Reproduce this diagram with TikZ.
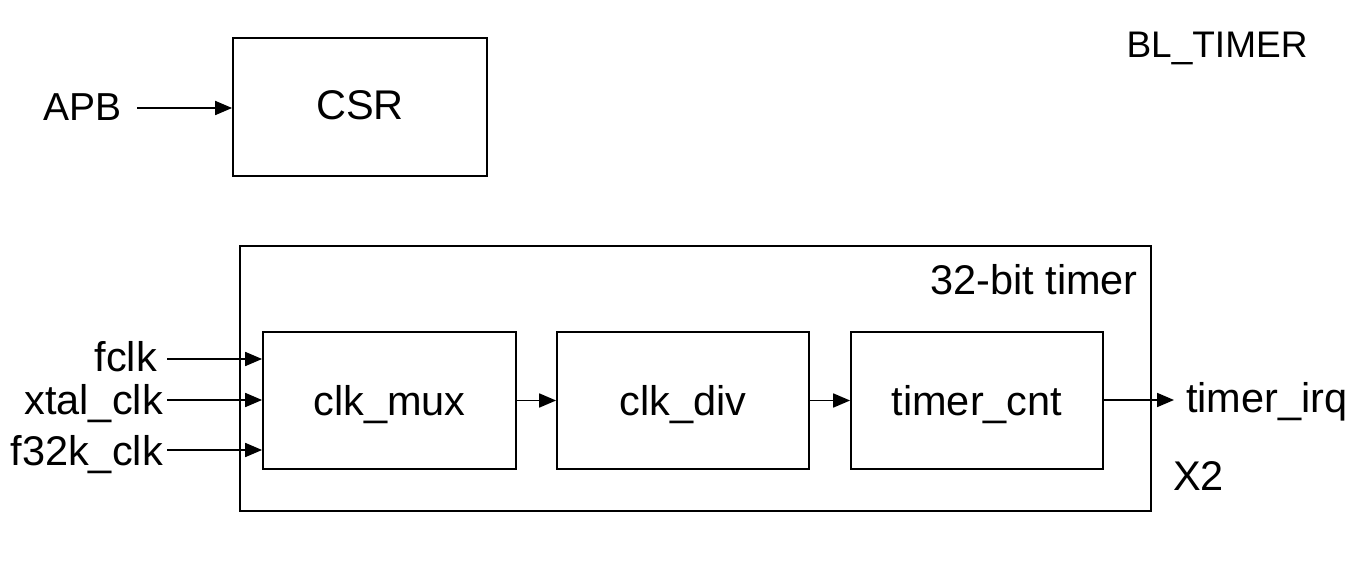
\documentclass[tikz,border=0pt]{standalone}
\usepackage{fontspec}
\setmainfont{Liberation Sans}
\usetikzlibrary{arrows.meta}
\begin{document}
\begin{tikzpicture}[x=1pt,y=-1pt,
  box/.style={draw, line width=1.8pt, inner sep=0pt, font=\fontsize{41.5}{48}\selectfont, text height=30pt, text depth=0pt},
  lbl/.style={inner sep=0pt, font=\fontsize{41.5}{48}\selectfont},
  conn/.style={line width=1.8pt, -{Triangle[length=17pt,width=14pt]}}]
\useasboundingbox (0,0) rectangle (1366,561);
% boxes
\node[box, minimum width=254pt, minimum height=138pt, text height=26pt] (csr) at (360,107) {CSR};
\node[box, minimum width=911pt, minimum height=265pt] (big) at (695.5,378.5) {};
\node[box, minimum width=253pt, minimum height=137pt] (mux) at (389.5,400.5) {clk\_mux};
\node[box, minimum width=252pt, minimum height=137pt] (div) at (683,400.5) {clk\_div};
\node[box, minimum width=252pt, minimum height=137pt] (cnt) at (977,400.5) {timer\_cnt};
% texts
\node[lbl, anchor=base west, font=\fontsize{39}{44}\selectfont] (apb) at (43,121) {APB};
\node[lbl, anchor=base, font=\fontsize{37}{44}\selectfont] (bl) at (1217,58) {BL\_TIMER};
\node[lbl, anchor=base east] (t32) at (1138,295) {32-bit timer};
\node[lbl, anchor=base west] (x2) at (1173,490) {X2};
\node[lbl, anchor=base east] (fclk) at (157,372) {fclk};
\node[lbl, anchor=base east] (xtal) at (163,414) {xtal\_clk};
\node[lbl, anchor=base east] (f32k) at (163,465) {f32k\_clk};
\node[lbl, anchor=base west] (irq) at (1186,413) {timer\_irq};
% connector ends
\coordinate (apbend) at (137,108);
\coordinate (in1) at (167,359);
\coordinate (in2) at (167,400);
\coordinate (in3) at (167,450);
\coordinate (outend) at (1174,400);
% connectors
\draw[conn] (apbend) -- (apbend -| csr.west);
\draw[conn] (in1) -- (in1 -| mux.west);
\draw[conn] (in2) -- (in2 -| mux.west);
\draw[conn] (in3) -- (in3 -| mux.west);
\draw[conn] (mux.east) -- (div.west);
\draw[conn] (div.east) -- (cnt.west);
\draw[conn] (cnt.east |- outend) -- (outend);
\end{tikzpicture}
\end{document}
